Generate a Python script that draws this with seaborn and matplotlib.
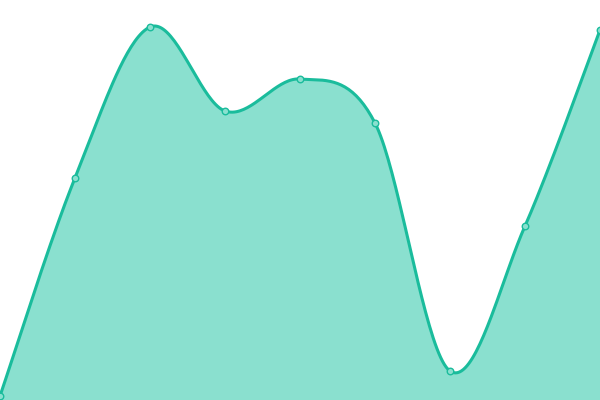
import numpy as np
import pandas as pd
import matplotlib
matplotlib.use("Agg")
import matplotlib.pyplot as plt
import seaborn as sns

# values (0 = bottom edge, 400 = top edge)
x_pos = [0, 1, 2, 3, 4, 5, 6, 7, 8]
values = [4, 222, 373, 289, 321, 277, 29, 174, 370]

LINE = "#1abc9c"
FILL = "#8ae0cf"


def catmull_rom(xs, ys, n=40):
    # smooth curve through the points (cardinal spline, tension 0.5)
    px = np.r_[xs[0], xs, xs[-1]].astype(float)
    py = np.r_[ys[0], ys, ys[-1]].astype(float)
    out_x, out_y = [], []
    for i in range(1, len(px) - 2):
        t = np.linspace(0, 1, n, endpoint=False)
        t2, t3 = t * t, t * t * t
        for arr, out in ((px, out_x), (py, out_y)):
            p0, p1, p2, p3 = arr[i - 1], arr[i], arr[i + 1], arr[i + 2]
            out.extend(0.5 * (2 * p1 + (-p0 + p2) * t
                              + (2 * p0 - 5 * p1 + 4 * p2 - p3) * t2
                              + (-p0 + 3 * p1 - 3 * p2 + p3) * t3))
    out_x.append(px[-2])
    out_y.append(py[-2])
    return np.array(out_x), np.array(out_y)


sx, sy = catmull_rom(np.array(x_pos), np.array(values))
curve = pd.DataFrame({"x": sx, "y": sy})
points = pd.DataFrame({"x": x_pos, "y": values})

sns.set_style("white")
fig = plt.figure(figsize=(6, 4), dpi=100)
ax = fig.add_axes([0, 0, 1, 1])

ax.fill_between(curve["x"], curve["y"], 0, color=FILL, lw=0)
sns.lineplot(data=curve, x="x", y="y", ax=ax, color=LINE, lw=2.2, sort=False)
sns.scatterplot(data=points, x="x", y="y", ax=ax, s=22, color=FILL,
                edgecolor=LINE, linewidth=1, zorder=5)

ax.set_xlim(0, 8)
ax.set_ylim(0, 400)
ax.set_axis_off()

fig.savefig("out.png", dpi=100)
